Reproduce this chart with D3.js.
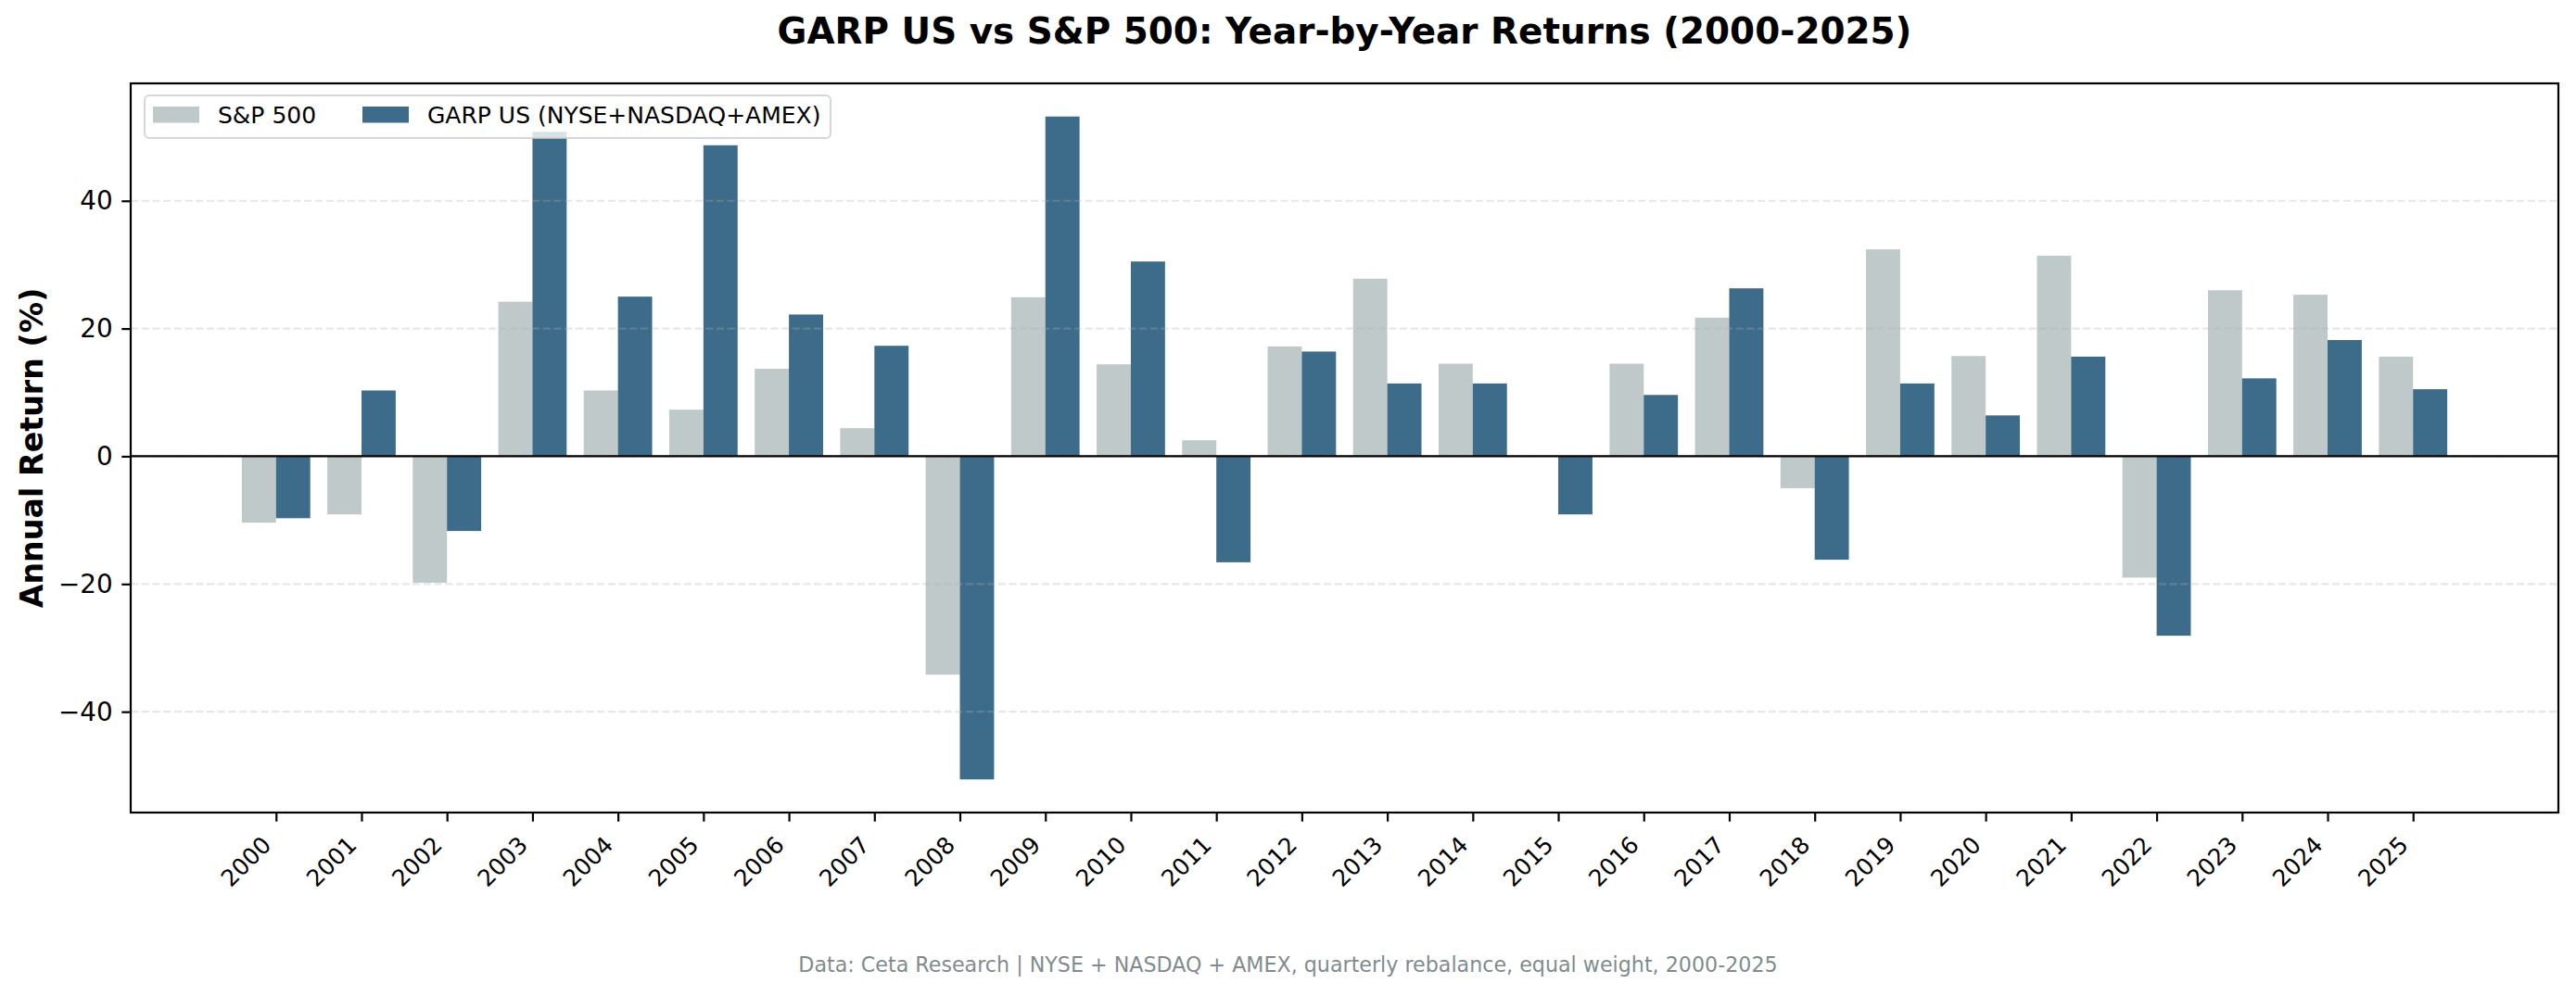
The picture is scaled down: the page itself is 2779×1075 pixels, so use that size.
<!DOCTYPE html>
<html>
<head>
<meta charset="utf-8">
<script src="https://cdn.jsdelivr.net/npm/d3@7"></script>
<style>
body { margin: 0; background: #fff; }
text { font-family: "DejaVu Sans", sans-serif; }
</style>
</head>
<body>
<div id="chart"></div>
<script>
// Data
var years = ["2000", "2001", "2002", "2003", "2004", "2005", "2006", "2007", "2008", "2009",
  "2010", "2011", "2012", "2013", "2014", "2015", "2016", "2017", "2018", "2019",
  "2020", "2021", "2022", "2023", "2024", "2025"];
var sp500 = [-10.4, -9.1, -19.8, 24.2, 10.3, 7.3, 13.7, 4.4, -34.2, 24.9,
  14.4, 2.5, 17.2, 27.8, 14.5, 0.0, 14.5, 21.7, -5.0, 32.4,
  15.7, 31.4, -19.0, 26.0, 25.3, 15.6];
var garp = [-9.7, 10.3, -11.7, 50.8, 25.0, 48.7, 22.2, 17.3, -50.6, 53.2,
  30.5, -16.6, 16.4, 11.4, 11.4, -9.1, 9.6, 26.3, -16.2, 11.4,
  6.4, 15.6, -28.1, 12.2, 18.2, 10.5];
var yTicks = [-40, -20, 0, 20, 40];
var seriesNames = ["S&P 500", "GARP US (NYSE+NASDAQ+AMEX)"];

var svgWidth = 2779;
var svgHeight = 1075;

var margin = {
  top: 90,
  right: 19,
  bottom: 198,
  left: 141
};

var width = svgWidth - margin.left - margin.right;
var height = svgHeight - margin.top - margin.bottom;

var spColor = "#95a5a6", spAlpha = 0.6;
var garpColor = "#1a5276", garpAlpha = 0.85;

var svg = d3.select("#chart")
  .append("svg")
  .attr("width", svgWidth)
  .attr("height", svgHeight);

var chartGroup = svg.append("g")
  .attr("transform", `translate(${margin.left}, ${margin.top})`);

// one row per year
var rows = years.map(function(y, i) {
  return {year: y, idx: i, sp: sp500[i], garp: garp[i]};
});

// scales: index based x with matplotlib-like padding
var xScale = d3.scaleLinear()
  .domain([-1.7, years.length - 1 + 1.7])
  .range([0, width]);

var yMin = d3.min(rows, r => Math.min(r.sp, r.garp));
var yMax = d3.max(rows, r => Math.max(r.sp, r.garp));
var pad = (yMax - yMin) * 0.05;
var yScale = d3.scaleLinear()
  .domain([yMin - pad, yMax + pad])
  .range([height, 0]);

var barW = xScale(0.4) - xScale(0);

// bars
chartGroup.selectAll("rect.sp")
  .data(rows)
  .enter()
  .append("rect")
  .attr("class", "sp")
  .attr("x", r => xScale(r.idx - 0.4))
  .attr("width", barW)
  .attr("y", r => yScale(Math.max(0, r.sp)))
  .attr("height", r => Math.abs(yScale(r.sp) - yScale(0)))
  .attr("fill", spColor)
  .attr("fill-opacity", spAlpha);

chartGroup.selectAll("rect.garp")
  .data(rows)
  .enter()
  .append("rect")
  .attr("class", "garp")
  .attr("x", r => xScale(r.idx))
  .attr("width", barW)
  .attr("y", r => yScale(Math.max(0, r.garp)))
  .attr("height", r => Math.abs(yScale(r.garp) - yScale(0)))
  .attr("fill", garpColor)
  .attr("fill-opacity", garpAlpha);

// dashed y grid (drawn over the bars like matplotlib does)
chartGroup.selectAll("line.grid")
  .data(yTicks)
  .enter()
  .append("line")
  .attr("class", "grid")
  .attr("x1", 0)
  .attr("x2", width)
  .attr("y1", d => yScale(d))
  .attr("y2", d => yScale(d))
  .attr("stroke", "#b0b0b0")
  .attr("stroke-opacity", 0.3)
  .attr("stroke-width", 2.2)
  .attr("stroke-dasharray", "8.2,3.5");

// zero line
chartGroup.append("line")
  .attr("x1", 0)
  .attr("x2", width)
  .attr("y1", yScale(0))
  .attr("y2", yScale(0))
  .attr("stroke", "#000")
  .attr("stroke-width", 2.2);

// axes
var bottomAxis = d3.axisBottom(xScale)
  .tickValues(d3.range(years.length))
  .tickFormat(i => years[i])
  .tickSize(9.7)
  .tickSizeOuter(0);

var leftAxis = d3.axisLeft(yScale)
  .tickValues(yTicks)
  .tickFormat(d => d < 0 ? "\u2212" + Math.abs(d) : String(d))
  .tickSize(9.7)
  .tickPadding(9.7)
  .tickSizeOuter(0);

var xAxisG = chartGroup.append("g")
  .attr("transform", `translate(0, ${height})`)
  .call(bottomAxis);
xAxisG.select(".domain").remove();
xAxisG.selectAll(".tick line").attr("stroke", "#000").attr("stroke-width", 2.2);
xAxisG.selectAll(".tick text")
  .attr("y", null)
  .attr("dy", null)
  .attr("text-anchor", "end")
  .attr("transform", "translate(-4.2, 36.4) rotate(-45)")
  .attr("font-size", "25px")
  .attr("font-family", "DejaVu Sans")
  .attr("fill", "#000");

var yAxisG = chartGroup.append("g")
  .call(leftAxis);
yAxisG.select(".domain").remove();
yAxisG.selectAll(".tick line").attr("stroke", "#000").attr("stroke-width", 2.2);
yAxisG.selectAll(".tick text")
  .attr("font-size", "27.8px")
  .attr("font-family", "DejaVu Sans")
  .attr("fill", "#000");

// frame
chartGroup.append("rect")
  .attr("x", 0)
  .attr("y", 0)
  .attr("width", width)
  .attr("height", height)
  .attr("fill", "none")
  .attr("stroke", "#000")
  .attr("stroke-width", 2.2);

// legend
var legend = svg.append("g")
  .attr("transform", "translate(156, 103)");
legend.append("rect")
  .attr("width", 740)
  .attr("height", 46)
  .attr("rx", 5)
  .attr("fill", "#fff")
  .attr("fill-opacity", 0.8)
  .attr("stroke", "#cccccc")
  .attr("stroke-opacity", 0.8)
  .attr("stroke-width", 2);

var legendItems = [
  {name: seriesNames[0], color: spColor, alpha: spAlpha, x: 9, tx: 79},
  {name: seriesNames[1], color: garpColor, alpha: garpAlpha, x: 235, tx: 305}
];
legendItems.forEach(function(item) {
  legend.append("rect")
    .attr("x", item.x)
    .attr("y", 12)
    .attr("width", 50)
    .attr("height", 17.5)
    .attr("fill", item.color)
    .attr("fill-opacity", item.alpha);
  legend.append("text")
    .attr("x", item.tx)
    .attr("y", 30)
    .attr("font-size", "25px")
    .text(item.name);
});

// title and labels
svg.append("text")
  .attr("x", margin.left + width / 2)
  .attr("y", 47)
  .attr("text-anchor", "middle")
  .attr("font-size", "38.9px")
  .attr("font-weight", "bold")
  .text("GARP US vs S&P 500: Year-by-Year Returns (2000-2025)");

svg.append("text")
  .attr("transform", `translate(46, ${margin.top + height / 2}) rotate(-90)`)
  .attr("text-anchor", "middle")
  .attr("font-size", "33.3px")
  .attr("font-weight", "bold")
  .text("Annual Return (%)");

svg.append("text")
  .attr("x", svgWidth / 2)
  .attr("y", 1049)
  .attr("text-anchor", "middle")
  .attr("font-size", "22.2px")
  .attr("fill", "#7f8c8d")
  .text("Data: Ceta Research | NYSE + NASDAQ + AMEX, quarterly rebalance, equal weight, 2000-2025");
</script>
</body>
</html>
